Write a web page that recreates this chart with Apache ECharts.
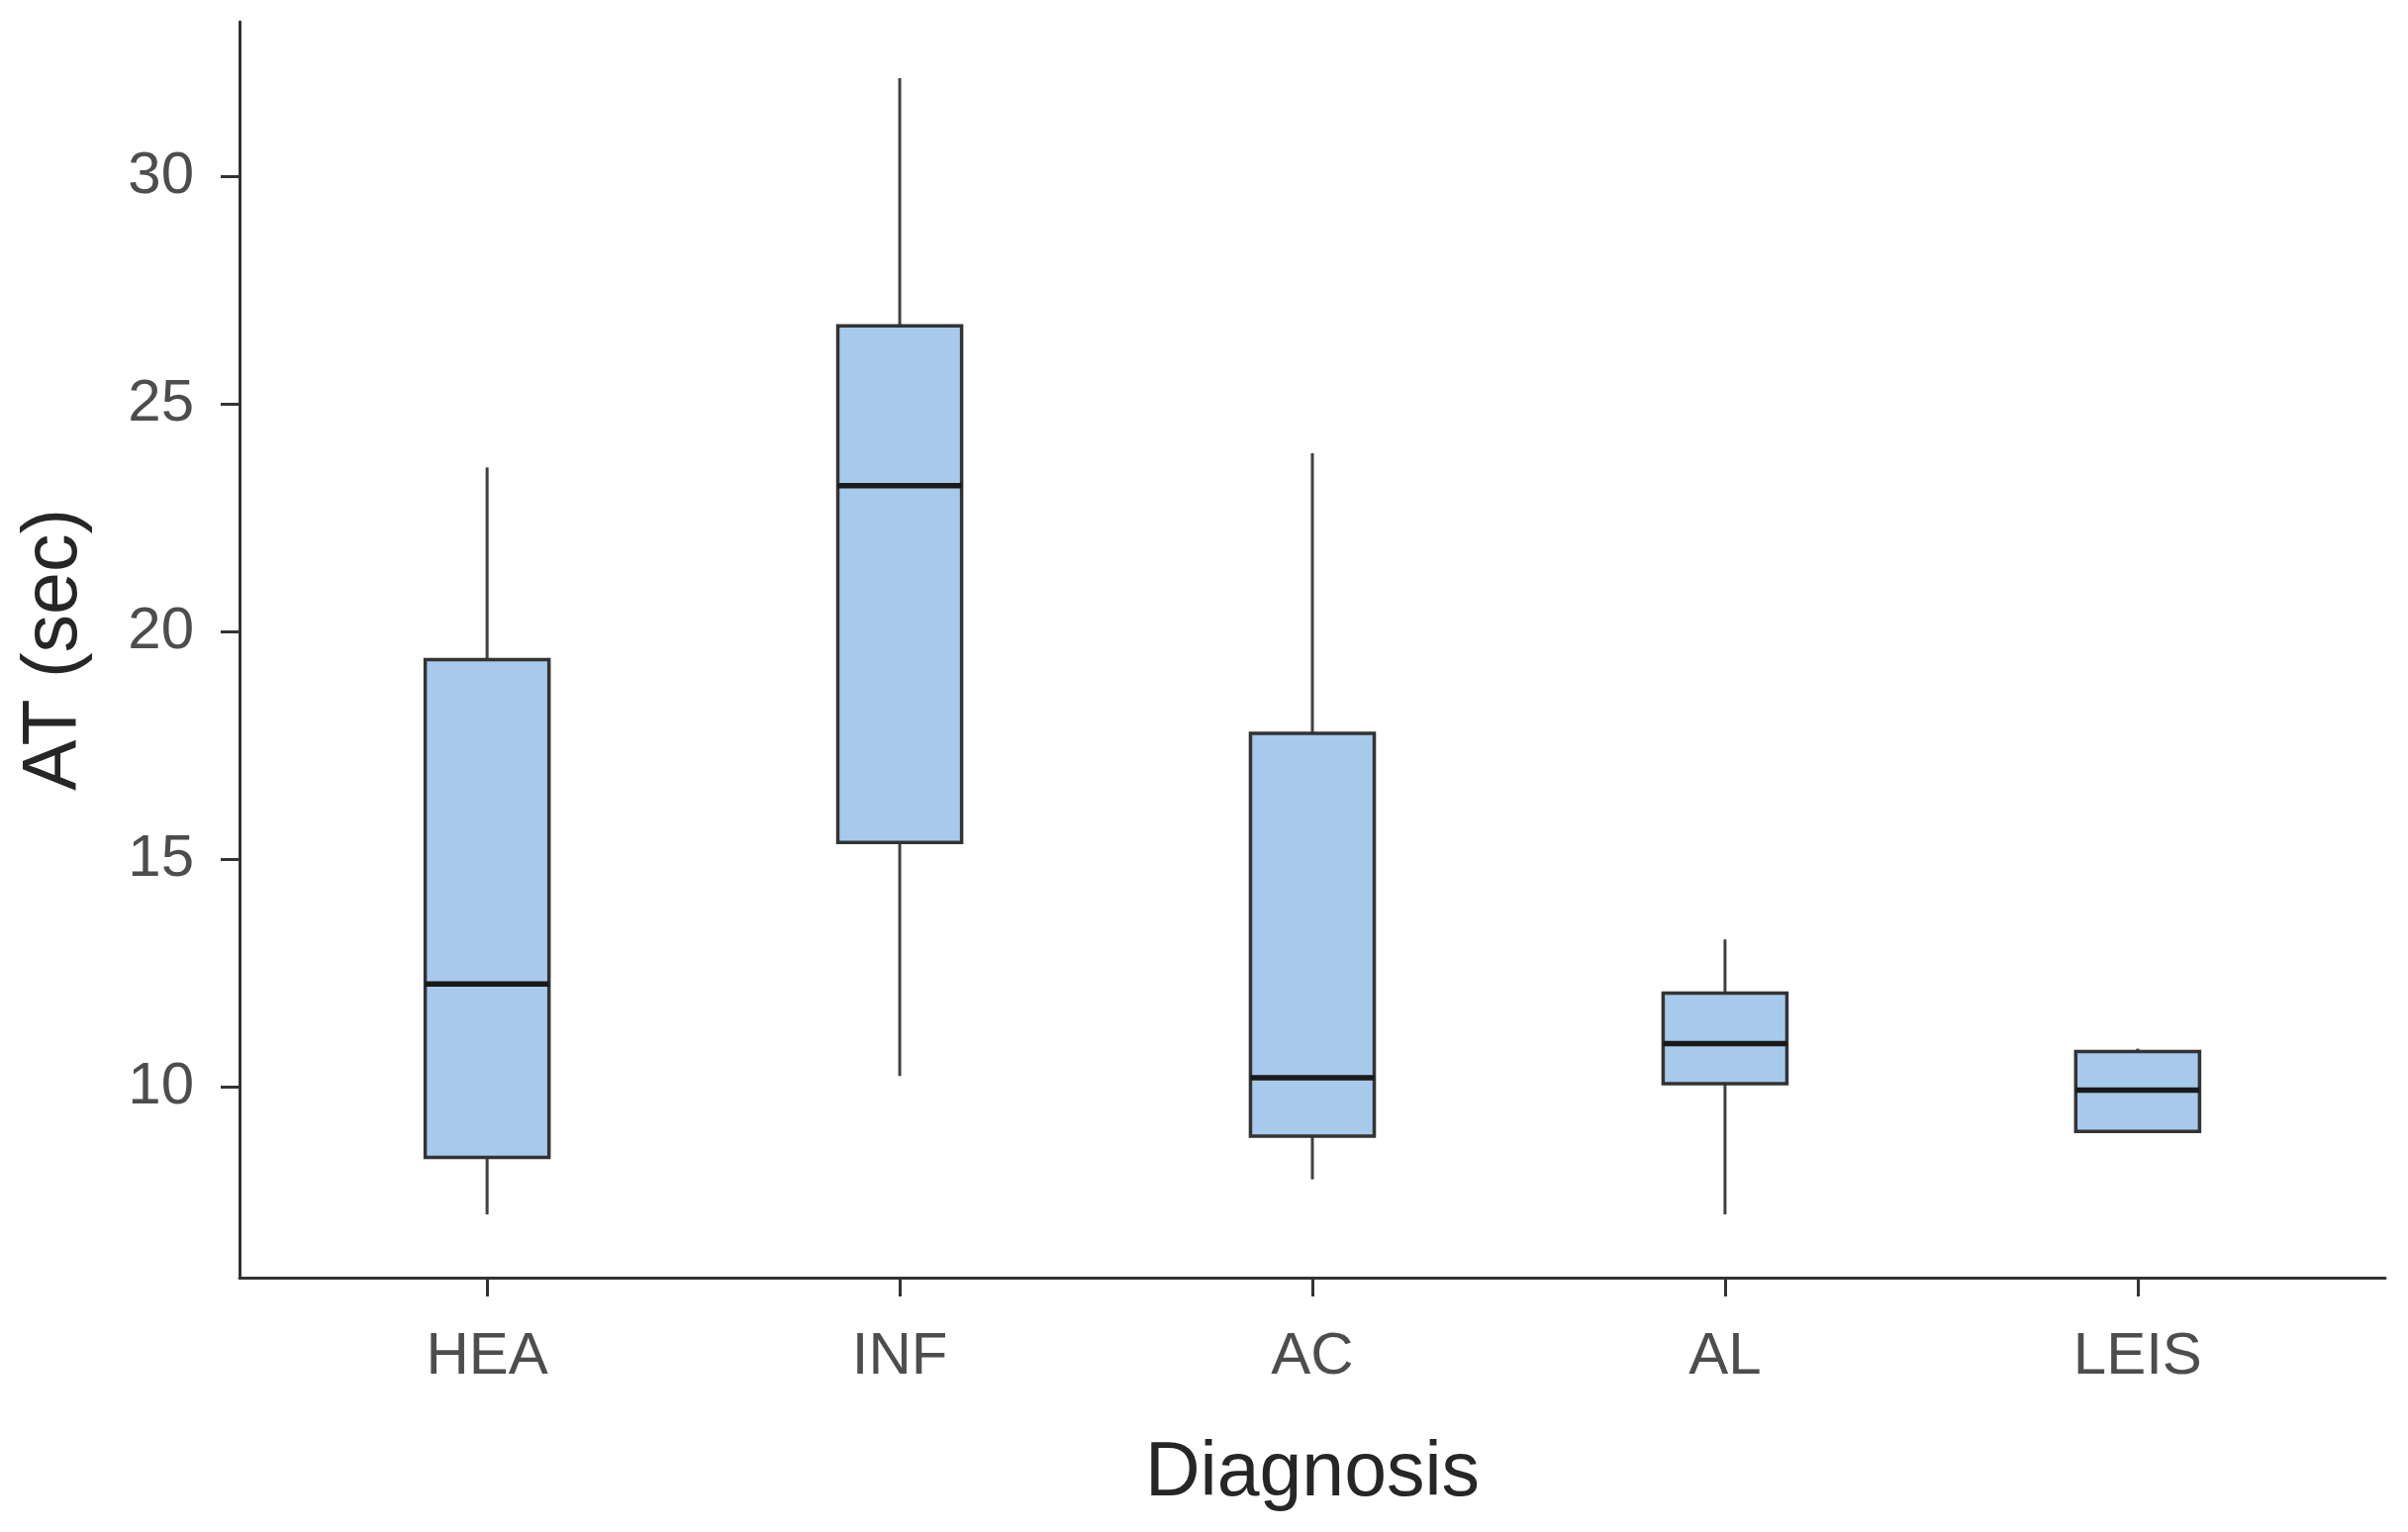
<!DOCTYPE html>
<html>
<head>
<meta charset="utf-8">
<script src="https://cdn.jsdelivr.net/npm/echarts@6/dist/echarts.min.js"></script>
<style>
html,body{margin:0;padding:0;background:#fff;}
#chart{width:2433px;height:1548px;}
</style>
</head>
<body>
<div id="chart"></div>
<script>
// Data
const categories = ['HEA', 'INF', 'AC', 'AL', 'LEIS'];
const lowerWhisker = [7.20, 10.24, 7.97, 7.20, 9.02];
const q1Values     = [8.45, 15.37, 8.92, 10.07, 9.02];
const medianValues = [12.26, 23.21, 10.20, 10.95, 9.93];
const q3Values     = [19.39, 26.72, 17.77, 12.06, 10.78];
const upperWhisker = [23.61, 32.16, 23.92, 13.24, 10.84];
const yTickValues  = [10, 15, 20, 25, 30];
const xTickValues  = [1, 2, 3, 4, 5];

const BOX_W = 0.3; // box width in category units
const FONT = "'Liberation Sans', Arial, sans-serif";

const source = categories.map((c, i) => [i + 1, lowerWhisker[i], q1Values[i], medianValues[i], q3Values[i], upperWhisker[i]]);

const chart = echarts.init(document.getElementById('chart'), null, {renderer: 'canvas'});

const option = {
  backgroundColor: '#ffffff',
  animation: false,
  grid: {left: 242, right: 23, top: 22, bottom: 257, containLabel: false},
  xAxis: {
    type: 'value',
    min: 0.4,
    max: 5.6,
    name: 'Diagnosis',
    nameLocation: 'middle',
    nameGap: 160,
    nameTextStyle: {fontFamily: FONT, fontSize: 77, color: '#262626'},
    axisLine: {show: true, lineStyle: {color: '#333333', width: 3}},
    axisTick: {show: true, customValues: xTickValues, length: 19, lineStyle: {color: '#333333', width: 3}},
    axisLabel: {
      show: true,
      customValues: xTickValues,
      margin: 50,
      fontFamily: FONT,
      fontSize: 60,
      color: '#4d4d4d',
      formatter: v => categories[Math.round(v) - 1] || ''
    },
    splitLine: {show: false}
  },
  yAxis: {
    type: 'value',
    min: 5.81,
    max: 33.40,
    name: 'AT (sec)',
    nameLocation: 'middle',
    nameRotate: 90,
    nameGap: 148,
    nameTextStyle: {fontFamily: FONT, fontSize: 77, color: '#262626'},
    axisLine: {show: true, lineStyle: {color: '#333333', width: 3}},
    axisTick: {show: true, customValues: yTickValues, length: 19, lineStyle: {color: '#333333', width: 3}},
    axisLabel: {
      show: true,
      customValues: yTickValues,
      margin: 46,
      fontFamily: FONT,
      fontSize: 60,
      color: '#4d4d4d'
    },
    splitLine: {show: false}
  },
  series: [{
    type: 'custom',
    data: source,
    dimensions: ['x', 'min', 'q1', 'median', 'q3', 'max'],
    encode: {x: 0, y: [1, 2, 3, 4, 5]},
    renderItem: function (params, api) {
      const x = api.value(0);
      const lo = api.coord([x, api.value(1)]);
      const q1 = api.coord([x, api.value(2)]);
      const md = api.coord([x, api.value(3)]);
      const q3 = api.coord([x, api.value(4)]);
      const hi = api.coord([x, api.value(5)]);
      const w = api.size([BOX_W, 0])[0];
      const children = [];
      if (Math.abs(lo[1] - q1[1]) > 0.5) {
        children.push({type: 'line', shape: {x1: lo[0], y1: lo[1], x2: q1[0], y2: q1[1]}, style: {stroke: '#404040', lineWidth: 3}});
      }
      if (Math.abs(q3[1] - hi[1]) > 0.5) {
        children.push({type: 'line', shape: {x1: q3[0], y1: q3[1], x2: hi[0], y2: hi[1]}, style: {stroke: '#404040', lineWidth: 3}});
      }
      children.push({type: 'rect', shape: {x: q3[0] - w / 2, y: q3[1], width: w, height: q1[1] - q3[1]}, style: {fill: '#a7c9eb', stroke: '#333333', lineWidth: 3.5}});
      children.push({type: 'line', shape: {x1: md[0] - w / 2, y1: md[1], x2: md[0] + w / 2, y2: md[1]}, style: {stroke: '#1a1a1a', lineWidth: 5.5}});
      return {type: 'group', children: children};
    }
  }]
};

chart.setOption(option);
</script>
</body>
</html>
